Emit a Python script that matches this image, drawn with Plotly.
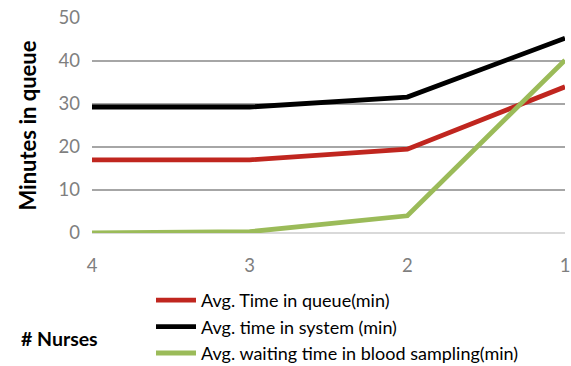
import plotly.graph_objects as go

# Number of nurses on duty (x categories, shown from 4 down to 1)
nurses = ["4", "3", "2", "1"]

# Average times in minutes
time_in_queue = [17.0, 17.0, 19.5, 34.0]
time_in_system = [29.3, 29.3, 31.6, 45.3]
blood_sampling_wait = [0.0, 0.3, 4.0, 40.2]

series = [
    ("Avg. Time in queue(min)", time_in_queue, "#c0261f"),
    ("Avg. time in system (min)", time_in_system, "#000000"),
    ("Avg. waiting time in blood sampling(min)", blood_sampling_wait, "#9bbb59"),
]

font_family = "Lato, 'Open Sans', sans-serif"

# plot area in pixels, used to place legend/annotation in paper coords
W, H = 571, 366
L, R, T, B = 92, 6, 18, 133
pw, ph = W - L - R, H - T - B


def px_to_paper(x, y):
    return (x - L) / pw, (H - B - y) / ph


fig = go.Figure()
for i, (name, values, color) in enumerate(series):
    fig.add_trace(go.Scatter(
        x=nurses, y=values, name=name, mode="lines", legendgroup=f"g{i}",
        line=dict(color=color, width=4.8),
    ))

lx, ly = px_to_paper(151, 282)
ax, ay = px_to_paper(19, 338)

fig.update_layout(
    width=W, height=H,
    margin=dict(l=L, r=R, t=T, b=B, autoexpand=False),
    paper_bgcolor="white", plot_bgcolor="white",
    font=dict(family=font_family, color="#595959"),
    showlegend=True,
    legend=dict(
        x=lx, y=ly, xanchor="left", yanchor="top",
        font=dict(size=18, color="#000000", family=font_family),
        bgcolor="rgba(0,0,0,0)", tracegroupgap=0, itemwidth=40,
    ),
    xaxis=dict(
        type="category", range=[0, 3], showgrid=False, zeroline=False,
        showline=False, ticks="",
        tickfont=dict(size=18.5, color="#7f7f7f"),
        ticklabelstandoff=19,
    ),
    yaxis=dict(
        range=[0, 50], tickvals=[0, 10, 20, 30, 40, 50],
        showgrid=True, gridcolor="#a6a6a6", gridwidth=1.5,
        zeroline=True, zerolinecolor="#d9d9d9", zerolinewidth=1.5,
        ticks="", tickfont=dict(size=18.5, color="#7f7f7f"),
        ticklabelstandoff=11,
        title=dict(text="<b>Minutes in queue</b>", standoff=15,
                   font=dict(size=22, color="#000000", family=font_family)),
    ),
    annotations=[dict(
        text="<b># Nurses</b>", x=ax, y=ay,
        xref="paper", yref="paper", xanchor="left", yanchor="middle",
        showarrow=False, font=dict(size=19.5, color="#000000", family=font_family),
    )],
)

fig.write_html("out.html")
